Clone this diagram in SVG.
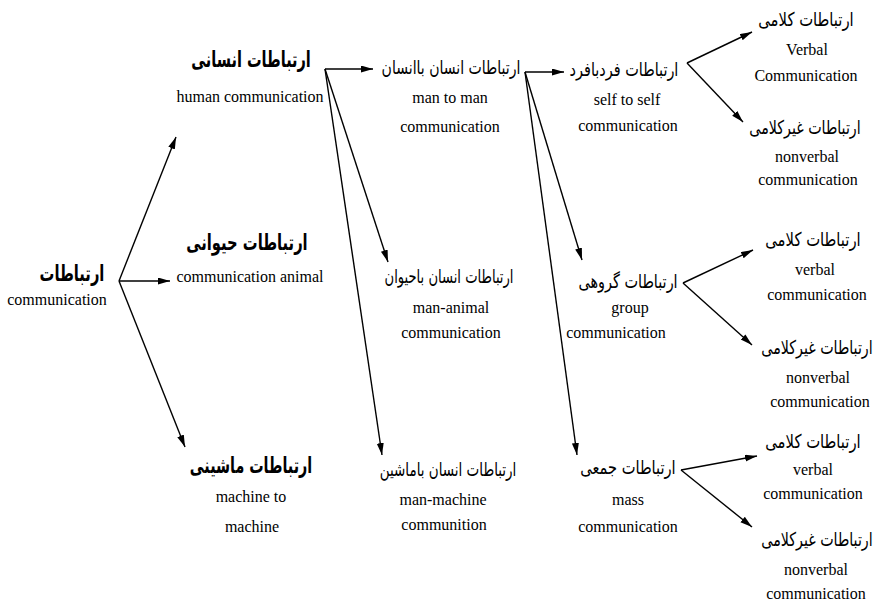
<svg xmlns="http://www.w3.org/2000/svg" width="885" height="604" viewBox="0 0 885 604">
<style>
.en{font-family:"Liberation Serif","Times New Roman",serif;font-size:16px;fill:#000;text-anchor:middle}
.fa{font-family:"DejaVu Sans","Noto Sans",sans-serif;font-size:19px;fill:#000;text-anchor:middle}
.fab{font-family:"DejaVu Sans","Noto Sans",sans-serif;font-size:22px;font-weight:bold;fill:#000;text-anchor:middle}
.c line{stroke:#000;stroke-width:1.4;marker-end:url(#ah)}
</style>
<defs>
<marker id="ah" markerUnits="userSpaceOnUse" markerWidth="13" markerHeight="8" refX="12" refY="3.5" orient="auto">
<path d="M0,0 L12,3.5 L0,7 z" fill="#000"/>
</marker>
</defs>
<rect width="885" height="604" fill="#fff"/>
<g class="c" id="connectors">
<line x1="119" y1="281" x2="176" y2="137"/>
<line x1="119" y1="281" x2="170" y2="281"/>
<line x1="119" y1="281" x2="185" y2="447"/>
<line x1="325" y1="69" x2="373" y2="69"/>
<line x1="325" y1="69" x2="388" y2="262"/>
<line x1="325" y1="69" x2="382" y2="455"/>
<line x1="525" y1="72" x2="564" y2="72"/>
<line x1="525" y1="72" x2="582" y2="260"/>
<line x1="525" y1="72" x2="577" y2="455"/>
<line x1="687" y1="63" x2="752" y2="32"/>
<line x1="687" y1="63" x2="743" y2="122"/>
<line x1="683" y1="283" x2="753" y2="250"/>
<line x1="683" y1="283" x2="752" y2="345"/>
<line x1="681" y1="470" x2="757" y2="456"/>
<line x1="681" y1="470" x2="752" y2="527"/>
</g>
<g id="root">
<text class="fab" transform="translate(72,281) scale(0.67,1)">ارتباطات</text>
<text class="en" x="57" y="305">communication</text>
</g>
<g id="human">
<text class="fab" transform="translate(251,67) scale(0.66,1)">ارتباطات انسانی</text>
<text class="en" x="250" y="102">human communication</text>
</g>
<g id="animal">
<text class="fab" transform="translate(247,250) scale(0.67,1)">ارتباطات حیوانی</text>
<text class="en" x="250" y="282">communication animal</text>
</g>
<g id="machine">
<text class="fab" transform="translate(251,473) scale(0.65,1)">ارتباطات ماشینی</text>
<text class="en" x="251" y="502">machine to</text>
<text class="en" x="252" y="532">machine</text>
</g>
<g id="man-man">
<text class="fa" transform="translate(451,74) scale(0.74,1)">ارتباطات انسان باانسان</text>
<text class="en" x="450" y="103">man to man</text>
<text class="en" x="450" y="132">communication</text>
</g>
<g id="man-animal">
<text class="fa" transform="translate(449,283) scale(0.69,1)">ارتباطات انسان باحیوان</text>
<text class="en" x="451" y="313">man-animal</text>
<text class="en" x="451" y="338">communication</text>
</g>
<g id="man-machine">
<text class="fa" transform="translate(448,476) scale(0.71,1)">ارتباطات انسان باماشین</text>
<text class="en" x="443" y="505">man-machine</text>
<text class="en" x="444" y="530">communition</text>
</g>
<g id="self">
<text class="fa" transform="translate(624,76) scale(0.76,1)">ارتباطات فردبافرد</text>
<text class="en" x="627" y="105">self to self</text>
<text class="en" x="628" y="131">communication</text>
</g>
<g id="group">
<text class="fa" transform="translate(628,288) scale(0.76,1)">ارتباطات گروهی</text>
<text class="en" x="630" y="313">group</text>
<text class="en" x="616" y="338">communication</text>
</g>
<g id="mass">
<text class="fa" transform="translate(628,474) scale(0.77,1)">ارتباطات جمعی</text>
<text class="en" x="628" y="505">mass</text>
<text class="en" x="628" y="532">communication</text>
</g>
<g id="verbal-1">
<text class="fa" transform="translate(806,26) scale(0.78,1)">ارتباطات کلامی</text>
<text class="en" x="807" y="55">Verbal</text>
<text class="en" x="806" y="81">Communication</text>
</g>
<g id="nonverbal-1">
<text class="fa" transform="translate(805,134) scale(0.75,1)">ارتباطات غیرکلامی</text>
<text class="en" x="807" y="162">nonverbal</text>
<text class="en" x="808" y="185">communication</text>
</g>
<g id="verbal-2">
<text class="fa" transform="translate(813,246) scale(0.78,1)">ارتباطات کلامی</text>
<text class="en" x="815" y="275">verbal</text>
<text class="en" x="817" y="300">communication</text>
</g>
<g id="nonverbal-2">
<text class="fa" transform="translate(817,354) scale(0.75,1)">ارتباطات غیرکلامی</text>
<text class="en" x="818" y="383">nonverbal</text>
<text class="en" x="820" y="407">communication</text>
</g>
<g id="verbal-3">
<text class="fa" transform="translate(813,448) scale(0.78,1)">ارتباطات کلامی</text>
<text class="en" x="813" y="475">verbal</text>
<text class="en" x="813" y="499">communication</text>
</g>
<g id="nonverbal-3">
<text class="fa" transform="translate(817,546) scale(0.75,1)">ارتباطات غیرکلامی</text>
<text class="en" x="816" y="575">nonverbal</text>
<text class="en" x="816" y="599">communication</text>
</g>
</svg>
